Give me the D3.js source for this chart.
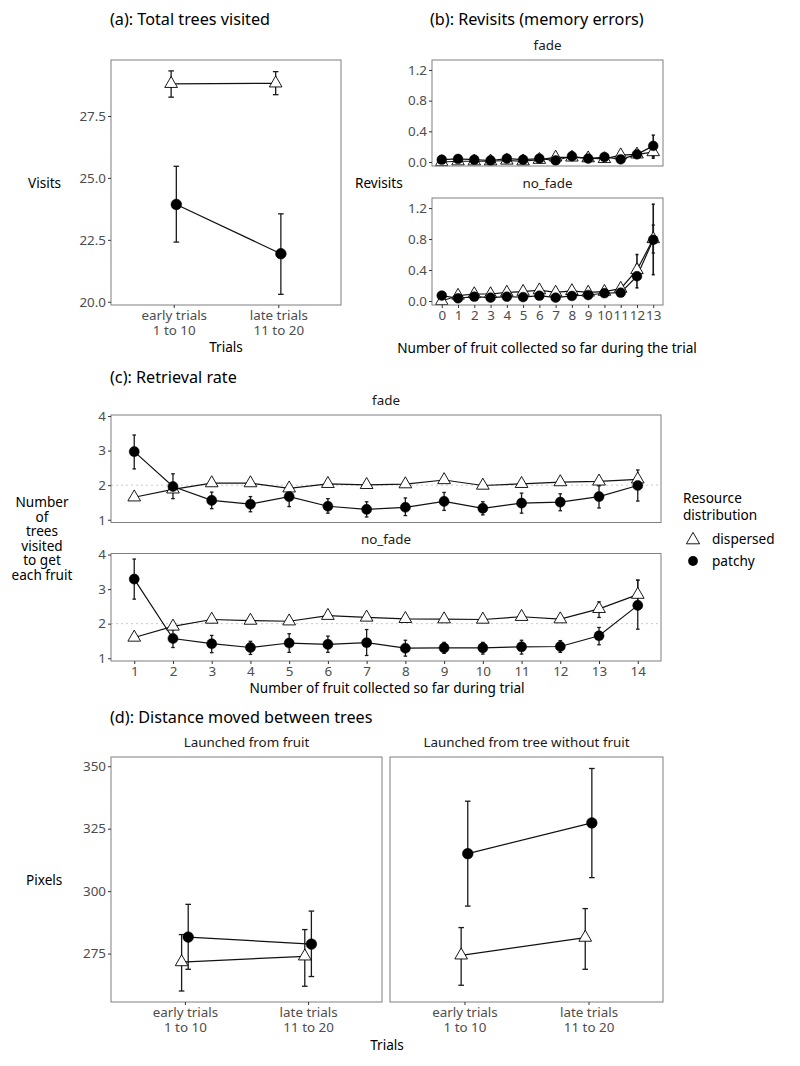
<!doctype html>
<html>
<head>
<meta charset="utf-8">
<title>foraging panels</title>
<script src="https://d3js.org/d3.v7.min.js"></script>
<style type="text/css">
    body { margin:0; background:#fff; }
    text { font-family:"Noto Sans", sans-serif; fill:#1a1a1a; }
    .tick text { fill:#4d4d4d; font-size:13.4px; }
    .tick line { stroke:#333; }
    .title { font-size:16.2px; fill:#000; }
    .strip { font-size:13.4px; }
    .axtitle { font-size:13.6px; fill:#000; }
</style>
</head>
<body>
<svg></svg>
<script type="text/javascript">

var w = 800, h = 1066;

// (a) total trees visited
var trialCats = ['early trials|1 to 10', 'late trials|11 to 20'];
var visitsDisp   = [28.80, 28.82], visitsDispLo  = [28.26, 28.36], visitsDispHi  = [29.32, 29.29];
var visitsPatch  = [23.93, 21.94], visitsPatchLo = [22.41, 20.30], visitsPatchHi = [25.47, 23.55];
var visitsTicks  = [20, 22.5, 25, 27.5];

// (b) revisits
var fruitSoFar = [0, 1, 2, 3, 4, 5, 6, 7, 8, 9, 10, 11, 12, 13];
var revFadeDisp    = [0.00, 0.01, 0.01, 0.01, 0.02, 0.01, 0.03, 0.06, 0.06, 0.05, 0.04, 0.09, 0.10, 0.13];
var revFadeDispLo  = [0.00, 0.00, 0.00, 0.00, 0.00, 0.00, 0.01, 0.03, 0.03, 0.02, 0.02, 0.05, 0.06, 0.05];
var revFadeDispHi  = [0.01, 0.02, 0.02, 0.02, 0.04, 0.02, 0.05, 0.09, 0.09, 0.08, 0.06, 0.13, 0.14, 0.20];
var revFadePatch   = [0.03, 0.04, 0.03, 0.02, 0.045, 0.03, 0.045, 0.02, 0.075, 0.045, 0.065, 0.035, 0.10, 0.21];
var revFadePatchLo = [0.01, 0.02, 0.01, 0.00, 0.02, 0.01, 0.02, 0.00, 0.04, 0.02, 0.03, 0.01, 0.07, 0.07];
var revFadePatchHi = [0.05, 0.06, 0.05, 0.04, 0.07, 0.05, 0.07, 0.04, 0.11, 0.07, 0.10, 0.06, 0.13, 0.35];
var revNoDisp      = [0.00, 0.07, 0.09, 0.09, 0.11, 0.12, 0.14, 0.11, 0.13, 0.11, 0.12, 0.16, 0.40, 0.80];
var revNoDispLo    = [0.00, 0.04, 0.06, 0.06, 0.08, 0.09, 0.10, 0.08, 0.10, 0.08, 0.09, 0.12, 0.33, 0.62];
var revNoDispHi    = [0.01, 0.10, 0.12, 0.12, 0.14, 0.15, 0.18, 0.14, 0.16, 0.14, 0.15, 0.20, 0.47, 0.98];
var revNoPatch     = [0.07, 0.035, 0.055, 0.043, 0.055, 0.05, 0.068, 0.043, 0.065, 0.077, 0.10, 0.107, 0.32, 0.79];
var revNoPatchLo   = [0.04, 0.02, 0.03, 0.02, 0.03, 0.03, 0.04, 0.02, 0.04, 0.05, 0.07, 0.08, 0.17, 0.34];
var revNoPatchHi   = [0.10, 0.05, 0.08, 0.07, 0.08, 0.07, 0.09, 0.07, 0.09, 0.10, 0.13, 0.14, 0.60, 1.25];
var revTicks = [0, 0.4, 0.8, 1.2];

// (c) retrieval rate
var fruitNum = [1, 2, 3, 4, 5, 6, 7, 8, 9, 10, 11, 12, 13, 14];
var rateFadeDisp    = [1.65, 1.88, 2.06, 2.06, 1.91, 2.04, 2.01, 2.03, 2.15, 1.99, 2.04, 2.09, 2.11, 2.17];
var rateFadeDispLo  = [1.60, 1.80, 2.00, 2.00, 1.86, 1.99, 1.96, 1.98, 2.09, 1.94, 1.99, 2.04, 2.05, 2.08];
var rateFadeDispHi  = [1.70, 1.95, 2.12, 2.12, 1.96, 2.09, 2.06, 2.08, 2.21, 2.04, 2.09, 2.14, 2.17, 2.26];
var rateFadePatch   = [2.97, 1.96, 1.56, 1.45, 1.67, 1.39, 1.30, 1.36, 1.53, 1.33, 1.48, 1.51, 1.67, 1.99];
var rateFadePatchLo = [2.47, 1.61, 1.32, 1.23, 1.38, 1.19, 1.08, 1.12, 1.27, 1.14, 1.19, 1.26, 1.34, 1.54];
var rateFadePatchHi = [3.45, 2.33, 1.80, 1.67, 1.94, 1.61, 1.52, 1.63, 1.79, 1.52, 1.77, 1.75, 1.98, 2.44];
var rateNoDisp      = [1.60, 1.92, 2.12, 2.09, 2.07, 2.23, 2.18, 2.14, 2.13, 2.12, 2.20, 2.13, 2.43, 2.84];
var rateNoDispLo    = [1.55, 1.86, 2.06, 2.03, 2.01, 2.17, 2.12, 2.08, 2.07, 2.06, 2.14, 2.07, 2.18, 2.42];
var rateNoDispHi    = [1.65, 1.98, 2.18, 2.15, 2.13, 2.29, 2.24, 2.20, 2.19, 2.18, 2.26, 2.19, 2.63, 3.26];
var rateNoPatch     = [3.29, 1.57, 1.42, 1.31, 1.44, 1.40, 1.45, 1.29, 1.30, 1.30, 1.33, 1.34, 1.65, 2.53];
var rateNoPatchLo   = [2.71, 1.31, 1.16, 1.11, 1.17, 1.17, 1.08, 1.06, 1.14, 1.12, 1.12, 1.17, 1.39, 1.84];
var rateNoPatchHi   = [3.87, 1.83, 1.66, 1.49, 1.71, 1.64, 1.83, 1.52, 1.46, 1.46, 1.52, 1.51, 1.89, 3.26];
var rateTicks = [1, 2, 3, 4];

// (d) distance moved
var distFruitDisp    = [271.6, 273.9], distFruitDispLo  = [260.0, 261.9], distFruitDispHi  = [282.6, 284.6];
var distFruitPatch   = [281.6, 278.8], distFruitPatchLo = [268.7, 265.8], distFruitPatchHi = [294.7, 292.0];
var distTreeDisp     = [274.3, 281.4], distTreeDispLo   = [262.3, 268.7], distTreeDispHi   = [285.4, 293.0];
var distTreePatch    = [315.0, 327.3], distTreePatchLo  = [294.0, 305.4], distTreePatchHi  = [336.0, 349.1];
var distTicks = [275, 300, 325, 350];

var svg = d3.select('svg')
    .attr('width', w)
    .attr('height', h);

function rows(cats, mean, lo, hi) {
    return cats.map(function(c, i) {
        return { cat: c, m: mean[i], lo: lo[i], hi: hi[i] };
    });
}

// one facet panel: box, axes, error bars, lines, points
function panel(opt) {
    var x = d3.scalePoint().domain(opt.cats).range([opt.x0, opt.x1]).padding(0.6);
    var y = d3.scaleLinear().domain(opt.ydom).range([opt.y1, opt.y0]);
    var g = svg.append('g');

    if (opt.refLine) {
        g.append('line')
            .attr('x1', opt.x0).attr('x2', opt.x1)
            .attr('y1', y(opt.refLine)).attr('y2', y(opt.refLine))
            .attr('stroke', '#c8c8c8').attr('stroke-dasharray', '2,3');
    }

    opt.series.forEach(function(s) {
        var dx = s.dx || 0;
        var eb = g.append('g').selectAll('g').data(s.data).enter().append('g')
            .attr('stroke', '#1a1a1a').attr('stroke-width', opt.ebw || 1.3);
        eb.append('line')
            .attr('x1', function(d){ return x(d.cat) + dx; })
            .attr('x2', function(d){ return x(d.cat) + dx; })
            .attr('y1', function(d){ return y(d.lo); })
            .attr('y2', function(d){ return y(d.hi); });
        [ 'lo', 'hi' ].forEach(function(k) {
            eb.append('line')
                .attr('x1', function(d){ return x(d.cat) + dx - opt.cap; })
                .attr('x2', function(d){ return x(d.cat) + dx + opt.cap; })
                .attr('y1', function(d){ return y(d[k]); })
                .attr('y2', function(d){ return y(d[k]); });
        });
    });

    opt.series.forEach(function(s) {
        var dx = s.dx || 0;
        g.append('path').datum(s.data)
            .attr('fill', 'none').attr('stroke', '#111').attr('stroke-width', 1.2)
            .attr('d', d3.line()
                .x(function(d){ return x(d.cat) + dx; })
                .y(function(d){ return y(d.m); }));
    });

    opt.series.forEach(function(s) {
        var dx = s.dx || 0;
        var tri = s.shape === 'tri';
        g.append('g').selectAll('path').data(s.data).enter().append('path')
            .attr('transform', function(d){ return 'translate(' + (x(d.cat) + dx) + ',' + y(d.m) + ')'; })
            .attr('d', d3.symbol().type(tri ? d3.symbolTriangle : d3.symbolCircle).size(tri ? opt.triSize : opt.dotSize))
            .attr('fill', tri ? '#fff' : '#000')
            .attr('stroke', '#000').attr('stroke-width', tri ? 0.9 : 0.5);
    });

    g.append('rect')
        .attr('x', opt.x0).attr('y', opt.y0)
        .attr('width', opt.x1 - opt.x0).attr('height', opt.y1 - opt.y0)
        .attr('fill', 'none').attr('stroke', '#7f7f7f').attr('stroke-width', 1);

    if (opt.yTicks) {
        var ya = g.append('g')
            .attr('transform', 'translate(' + opt.x0 + ',0)')
            .call(d3.axisLeft(y).tickValues(opt.yTicks).tickSize(3).tickPadding(2).tickFormat(d3.format(opt.yfmt)));
        ya.select('.domain').remove();
    }
    if (opt.xAxis) {
        var xa = g.append('g')
            .attr('transform', 'translate(0,' + opt.y1 + ')')
            .call(d3.axisBottom(x).tickSize(3).tickPadding(2));
        xa.select('.domain').remove();
        xa.selectAll('.tick text').each(function(d) {
            var parts = String(d).split('|');
            var t = d3.select(this).text(null);
            parts.forEach(function(p, i) {
                t.append('tspan').attr('x', 0).attr('dy', i === 0 ? '0.71em' : '1.12em').text(p);
            });
        });
    }
    if (opt.strip) {
        g.append('text').attr('class', 'strip')
            .attr('x', (opt.x0 + opt.x1) / 2).attr('y', opt.y0 - 10)
            .attr('text-anchor', 'middle').text(opt.strip);
    }
    return g;
}

function text(x, y, str, cls, anchor) {
    return svg.append('text').attr('class', cls).attr('x', x).attr('y', y)
        .attr('text-anchor', anchor || 'start').text(str);
}

// ---- (a)
text(110, 25, '(a): Total trees visited', 'title');
panel({
    x0: 111, x1: 341, y0: 60, y1: 305, cats: trialCats,
    ydom: [19.87, 29.76], yTicks: visitsTicks, yfmt: '.1f', xAxis: true,
    cap: 2.8, triSize: 70, dotSize: 90,
    series: [
        { shape: 'tri', dx: -2.6, data: rows(trialCats, visitsDisp, visitsDispLo, visitsDispHi) },
        { shape: 'dot', dx: 2.6, data: rows(trialCats, visitsPatch, visitsPatchLo, visitsPatchHi) }
    ]
});
text(28, 188, 'Visits', 'axtitle');
text(226, 352, 'Trials', 'axtitle', 'middle');

// ---- (b)
text(430, 25, '(b): Revisits (memory errors)', 'title');
panel({
    x0: 432, x1: 663, y0: 60, y1: 166, cats: fruitSoFar, strip: 'fade',
    ydom: [-0.052, 1.33], yTicks: revTicks, yfmt: '.1f',
    cap: 1.5, triSize: 68, dotSize: 75, ebw: 1.6,
    series: [
        { shape: 'tri', data: rows(fruitSoFar, revFadeDisp, revFadeDispLo, revFadeDispHi) },
        { shape: 'dot', data: rows(fruitSoFar, revFadePatch, revFadePatchLo, revFadePatchHi) }
    ]
});
panel({
    x0: 432, x1: 663, y0: 198, y1: 305, cats: fruitSoFar, strip: 'no_fade',
    ydom: [-0.052, 1.33], yTicks: revTicks, yfmt: '.1f', xAxis: true,
    cap: 1.5, triSize: 68, dotSize: 75, ebw: 1.6,
    series: [
        { shape: 'tri', data: rows(fruitSoFar, revNoDisp, revNoDispLo, revNoDispHi) },
        { shape: 'dot', data: rows(fruitSoFar, revNoPatch, revNoPatchLo, revNoPatchHi) }
    ]
});
text(355, 188, 'Revisits', 'axtitle');
text(547, 353, 'Number of fruit collected so far during the trial', 'axtitle', 'middle');

// ---- (c)
text(110, 383, '(c): Retrieval rate', 'title');
panel({
    x0: 111, x1: 661, y0: 415, y1: 522.5, cats: fruitNum, strip: 'fade',
    ydom: [0.92, 4.03], yTicks: rateTicks, yfmt: 'd', refLine: 2,
    cap: 1.8, triSize: 70, dotSize: 80,
    series: [
        { shape: 'tri', data: rows(fruitNum, rateFadeDisp, rateFadeDispLo, rateFadeDispHi) },
        { shape: 'dot', data: rows(fruitNum, rateFadePatch, rateFadePatchLo, rateFadePatchHi) }
    ]
});
panel({
    x0: 111, x1: 661, y0: 553.5, y1: 661, cats: fruitNum, strip: 'no_fade',
    ydom: [0.92, 4.03], yTicks: rateTicks, yfmt: 'd', refLine: 2, xAxis: true,
    cap: 1.8, triSize: 70, dotSize: 80,
    series: [
        { shape: 'tri', data: rows(fruitNum, rateNoDisp, rateNoDispLo, rateNoDispHi) },
        { shape: 'dot', data: rows(fruitNum, rateNoPatch, rateNoPatchLo, rateNoPatchHi) }
    ]
});
// multi-line y title kept as one text element
var ylab = ['Number', 'of', 'trees', 'visited', 'to get', 'each fruit'];
var yl = svg.append('text').attr('class', 'axtitle').attr('text-anchor', 'middle')
    .attr('x', 42).attr('y', 507);
ylab.forEach(function(s, i) {
    yl.append('tspan').attr('x', 42).attr('dy', i === 0 ? 0 : 14.6).text(s);
});
text(387, 693, 'Number of fruit collected so far during trial', 'axtitle', 'middle');

// legend
var leg = svg.append('text').attr('class', 'axtitle').attr('x', 683).attr('y', 503);
leg.append('tspan').attr('x', 683).text('Resource');
leg.append('tspan').attr('x', 683).attr('dy', 17).text('distribution');
svg.append('path')
    .attr('transform', 'translate(693,540)')
    .attr('d', d3.symbol().type(d3.symbolTriangle).size(75))
    .attr('fill', '#fff').attr('stroke', '#000').attr('stroke-width', 0.9);
svg.append('path')
    .attr('transform', 'translate(693,561)')
    .attr('d', d3.symbol().type(d3.symbolCircle).size(75))
    .attr('fill', '#000');
text(712, 544, 'dispersed', 'axtitle');
text(712, 566, 'patchy', 'axtitle');

// ---- (d)
text(110, 723, '(d): Distance moved between trees', 'title');
panel({
    x0: 111, x1: 382, y0: 757, y1: 1002, cats: trialCats, strip: 'Launched from fruit',
    ydom: [255.6, 353.7], yTicks: distTicks, yfmt: 'd', xAxis: true,
    cap: 2.8, triSize: 70, dotSize: 90,
    series: [
        { shape: 'tri', dx: -3.3, data: rows(trialCats, distFruitDisp, distFruitDispLo, distFruitDispHi) },
        { shape: 'dot', dx: 3.3, data: rows(trialCats, distFruitPatch, distFruitPatchLo, distFruitPatchHi) }
    ]
});
panel({
    x0: 390, x1: 663, y0: 757, y1: 1002, cats: trialCats, strip: 'Launched from tree without fruit',
    ydom: [255.6, 353.7], xAxis: true,
    cap: 2.8, triSize: 70, dotSize: 90,
    series: [
        { shape: 'tri', dx: -3.3, data: rows(trialCats, distTreeDisp, distTreeDispLo, distTreeDispHi) },
        { shape: 'dot', dx: 3.3, data: rows(trialCats, distTreePatch, distTreePatchLo, distTreePatchHi) }
    ]
});
text(26, 885, 'Pixels', 'axtitle');
text(387, 1050, 'Trials', 'axtitle', 'middle');
</script>
</body>
</html>
